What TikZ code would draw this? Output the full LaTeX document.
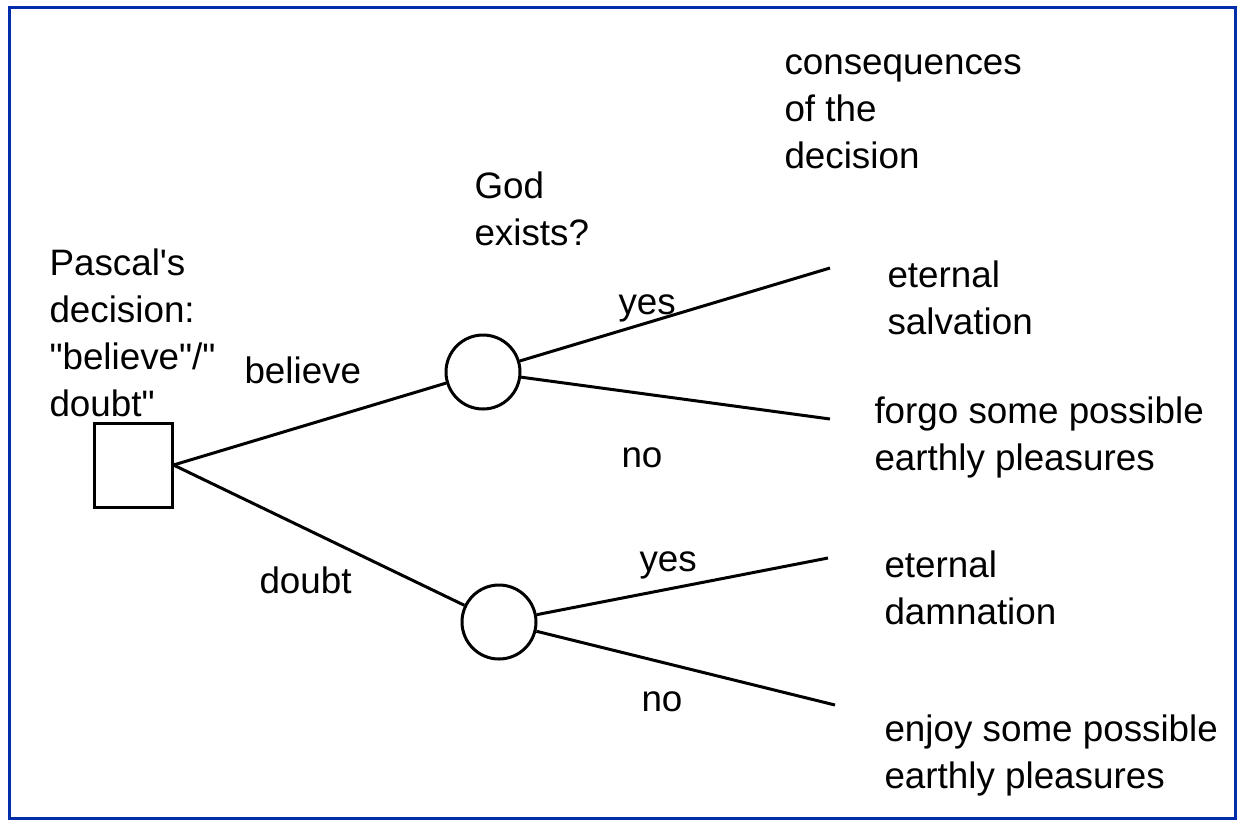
\documentclass[tikz,border=0pt]{standalone}
\usepackage{fontspec}
\setmainfont{Liberation Sans}[Ligatures=TeXOff]
\definecolor{frameblue}{RGB}{0,45,170}
\begin{document}
\begin{tikzpicture}[x=0.5pt,y=-0.5pt,line width=1.5pt]
  \tikzset{lbl/.style={anchor=west,align=left,inner sep=0pt,
      font=\fontsize{18.4}{23.5}\selectfont}}
  \useasboundingbox (0,0) rectangle (1238,821);
  \draw[frameblue] (9,7) rectangle (1235,818);

  % decision and chance nodes
  \node[draw,minimum width=39pt,minimum height=42pt,inner sep=0pt] (choice) at (133,465) {};
  \node[draw,circle,minimum size=37pt,inner sep=0pt] (god1) at (483,372) {};
  \node[draw,circle,minimum size=37pt,inner sep=0pt] (god2) at (499,622) {};
  \coordinate (salv) at (830,268);
  \coordinate (forgo) at (830,419);
  \coordinate (damn) at (828,558);
  \coordinate (enjoy) at (835,705);

  \draw (choice.east) -- (god1);
  \draw (choice.east) -- (god2);
  \draw (god1) -- (salv);
  \draw (god1) -- (forgo);
  \draw (god2) -- (damn);
  \draw (god2) -- (enjoy);

  % labels
  \node[lbl] (tcons) at (783,112) {consequences\\of the\\decision};
  \node[lbl] (tgod) at (473,209) {God\\exists?};
  \node[lbl] (tpascal) at (48,333) {Pascal's\\decision:\\"believe"/"\\doubt"};
  \node[lbl] (tbel) at (243,370) {believe};
  \node[lbl] (tdou) at (258,580) {doubt};
  \node[lbl] (tyes1) at (617,308) {yes};
  \node[lbl] (tno1) at (620,458) {no};
  \node[lbl] (tyes2) at (638,565) {yes};
  \node[lbl] (tno2) at (640,702) {no};
  \node[lbl] (tsalv) at (886,298) {eternal\\salvation};
  \node[lbl] (tforgo) at (873,437) {forgo some possible\\earthly pleasures};
  \node[lbl] (tdamn) at (883,588) {eternal\\damnation};
  \node[lbl] (tenjoy) at (883,755) {enjoy some possible\\earthly pleasures};
\end{tikzpicture}
\end{document}
